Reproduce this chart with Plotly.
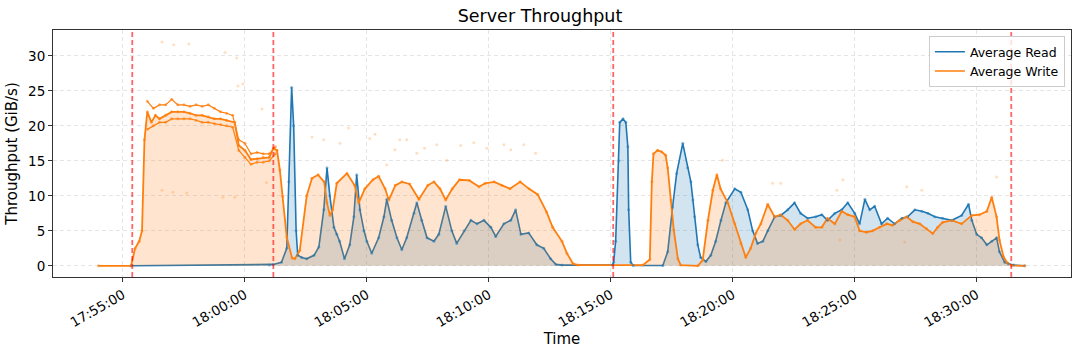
import plotly.graph_objects as go

DAY = "2024-01-01 "

# ---- Average Read (GiB/s) ----
read_times = [
    "17:55:20", "18:01:00", "18:01:10", "18:01:30", "18:01:43", "18:01:48", "18:01:55", "18:02:00",
    "18:02:06", "18:02:10", "18:02:20", "18:02:32", "18:02:50", "18:03:02", "18:03:14", "18:03:22",
    "18:03:29", "18:03:39", "18:03:46", "18:03:53", "18:04:05", "18:04:18", "18:04:28", "18:04:35",
    "18:04:43", "18:04:53", "18:05:00", "18:05:12", "18:05:29", "18:05:42", "18:05:49", "18:06:01",
    "18:06:14", "18:06:26", "18:06:38", "18:06:56", "18:07:03", "18:07:15", "18:07:28", "18:07:45",
    "18:07:57", "18:08:14", "18:08:29", "18:08:41", "18:08:59", "18:09:16", "18:09:31", "18:09:48",
    "18:10:05", "18:10:17", "18:10:37", "18:10:54", "18:11:06", "18:11:19", "18:11:38", "18:11:58",
    "18:12:15", "18:12:32", "18:12:45", "18:13:00", "18:15:04", "18:15:07", "18:15:12", "18:15:20",
    "18:15:22", "18:15:30", "18:15:37", "18:15:42", "18:15:44", "18:15:49", "18:15:55", "18:17:08",
    "18:17:20", "18:17:32", "18:17:42", "18:17:57", "18:18:09", "18:18:17", "18:18:22", "18:18:26",
    "18:18:34", "18:18:41", "18:18:54", "18:19:06", "18:19:18", "18:19:31", "18:19:43", "18:20:05",
    "18:20:20", "18:20:37", "18:20:49", "18:21:01", "18:21:14", "18:21:26", "18:21:43", "18:21:58",
    "18:22:15", "18:22:32", "18:22:47", "18:23:04", "18:23:24", "18:23:39", "18:23:53", "18:24:11",
    "18:24:28", "18:24:43", "18:25:00", "18:25:12", "18:25:25", "18:25:37", "18:25:49", "18:26:06",
    "18:26:21", "18:26:38", "18:26:56", "18:27:10", "18:27:28", "18:27:45", "18:28:00", "18:28:17",
    "18:28:36", "18:28:59", "18:29:23", "18:29:40", "18:29:48", "18:30:00", "18:30:12", "18:30:25",
    "18:30:37", "18:30:49", "18:30:56", "18:31:09", "18:31:18", "18:31:31", "18:31:58",
]
read_vals = [
    0.0, 0.1, 0.2, 0.5, 2.5, 12.0, 25.5, 20.0,
    5.0, 1.5, 1.2, 1.0, 1.5, 2.7, 8.0, 14.0,
    10.0, 5.5, 4.5, 3.5, 1.0, 3.0, 7.0, 13.0,
    8.0, 5.0, 3.5, 1.8, 4.0, 7.0, 9.5, 6.5,
    4.0, 2.3, 4.0, 7.5, 9.0, 6.5, 4.0, 3.5,
    4.5, 8.5, 5.0, 3.2, 5.0, 6.5, 6.0, 6.5,
    5.5, 4.2, 6.0, 6.5, 8.0, 4.5, 4.7, 3.0,
    2.5, 1.0, 0.2, 0.1, 0.1, 0.5, 3.5, 15.0,
    20.5, 21.0, 20.5, 17.0, 8.0, 0.5, 0.05, 0.05,
    2.0, 8.4, 13.2, 17.5, 14.0, 12.0, 9.4, 7.0,
    3.0, 1.2, 0.6, 1.5, 3.5, 6.5, 9.0, 11.0,
    10.5, 8.0, 5.0, 3.2, 3.5, 5.0, 7.0, 7.2,
    8.0, 9.0, 7.5, 6.8, 7.0, 7.3, 6.5, 7.5,
    8.0, 9.0, 7.5, 6.0, 9.5, 8.0, 8.5, 6.0,
    6.8, 6.0, 6.8, 7.0, 8.0, 7.8, 7.5, 7.0,
    6.8, 6.5, 7.2, 8.8, 6.5, 4.5, 4.0, 3.0,
    3.5, 4.0, 2.0, 0.5, 0.3, 0.1, 0.0,
]

# ---- Average Write (GiB/s) ----
write_times = [
    "17:54:00", "17:55:20", "17:55:30", "17:55:40", "17:55:47", "17:55:53", "17:56:00", "17:56:10",
    "17:56:20", "17:56:30", "17:56:45", "17:57:00", "17:57:15", "17:57:30", "17:57:45", "17:58:00",
    "17:58:15", "17:58:30", "17:58:45", "17:59:00", "17:59:15", "17:59:35", "17:59:45", "18:00:00",
    "18:00:15", "18:00:30", "18:00:45", "18:01:00", "18:01:10", "18:01:19", "18:01:26", "18:01:33",
    "18:01:43", "18:01:56", "18:02:03", "18:02:15", "18:02:32", "18:02:45", "18:03:00", "18:03:15",
    "18:03:22", "18:03:29", "18:03:36", "18:03:46", "18:04:11", "18:04:30", "18:04:40", "18:04:55",
    "18:05:15", "18:05:29", "18:05:45", "18:05:54", "18:06:10", "18:06:26", "18:06:45", "18:07:08",
    "18:07:30", "18:07:45", "18:08:00", "18:08:14", "18:08:30", "18:08:48", "18:09:12", "18:09:36",
    "18:09:51", "18:10:13", "18:10:32", "18:10:52", "18:11:17", "18:11:39", "18:12:00", "18:12:22",
    "18:12:37", "18:13:00", "18:13:12", "18:13:27", "18:13:40", "18:16:19", "18:16:36", "18:16:41",
    "18:16:45", "18:16:55", "18:17:05", "18:17:15", "18:17:20", "18:17:28", "18:17:35", "18:17:45",
    "18:17:52", "18:18:34", "18:18:46", "18:18:59", "18:19:11", "18:19:21", "18:19:30", "18:19:48",
    "18:20:05", "18:20:20", "18:20:32", "18:20:44", "18:20:57", "18:21:09", "18:21:26", "18:21:43",
    "18:21:58", "18:22:15", "18:22:32", "18:22:47", "18:23:04", "18:23:24", "18:23:39", "18:23:53",
    "18:24:11", "18:24:28", "18:24:43", "18:25:00", "18:25:12", "18:25:29", "18:25:44", "18:26:01",
    "18:26:19", "18:26:33", "18:26:51", "18:27:08", "18:27:23", "18:27:40", "18:27:57", "18:28:12",
    "18:28:24", "18:28:36", "18:28:59", "18:29:23", "18:29:48", "18:30:07", "18:30:25", "18:30:37",
    "18:30:49", "18:30:56", "18:31:06", "18:31:14", "18:31:26", "18:31:58",
]
write_vals = [
    0.0, 0.0, 2.5, 3.5, 5.0, 18.0, 22.0, 20.5,
    21.5, 21.0, 21.5, 22.0, 22.0, 22.0, 21.8, 21.5,
    21.5, 21.3, 21.0, 21.0, 20.8, 20.5, 17.2, 16.5,
    15.2, 15.3, 15.5, 15.5, 16.8, 16.5, 13.7, 9.9,
    4.1, 1.1, 1.0, 2.2, 10.0, 12.5, 13.0, 12.0,
    9.0, 7.2, 8.0, 11.8, 13.2, 11.5, 9.0, 11.0,
    12.3, 12.8, 11.0, 9.4, 11.5, 12.0, 11.7, 9.5,
    11.5, 12.0, 11.0, 9.4, 11.0, 12.3, 12.2, 11.3,
    11.8, 12.0, 11.5, 11.0, 12.0, 11.0, 10.2, 7.7,
    5.5, 3.5, 1.8, 0.3, 0.1, 0.1, 0.9, 12.0,
    16.0, 16.5, 16.3, 15.8, 14.0, 9.4, 5.1, 1.0,
    0.1, 0.0, 0.8, 6.5, 10.8, 13.0, 11.0, 9.0,
    6.0, 3.2, 1.2, 2.5, 4.7, 6.0, 8.8, 7.0,
    7.3, 6.5, 5.2, 6.0, 6.5, 5.5, 5.5, 6.8,
    6.0, 7.8, 7.3, 7.0, 5.0, 4.8, 5.0, 5.5,
    6.0, 5.8, 6.5, 7.0, 6.3, 6.0, 5.3, 4.6,
    5.5, 6.2, 6.5, 6.0, 7.2, 7.3, 7.8, 9.8,
    7.0, 3.7, 1.3, 0.5, 0.05, 0.0,
]

# ---- per-node write spread during first write phase ----
node_times = [
    "17:56:00", "17:56:15", "17:56:30", "17:56:45", "17:57:00", "17:57:15", "17:57:30", "17:57:45",
    "17:58:00", "17:58:15", "17:58:30", "17:58:45", "17:59:00", "17:59:15", "17:59:30", "17:59:45",
    "18:00:00", "18:00:15", "18:00:30", "18:00:45", "18:01:00", "18:01:15",
]
node_write_hi = [
    23.5, 22.5, 23.0, 23.0, 23.8, 23.0, 23.0, 22.8, 23.0, 22.8, 23.0, 22.5, 22.0, 21.8, 21.5, 18.0,
    17.5, 16.0, 16.2, 16.0, 16.0, 17.0,
]
node_write_lo = [
    19.5, 20.0, 20.5, 20.5, 21.0, 21.0, 21.0, 21.0, 20.8, 20.5, 20.5, 20.3, 20.2, 20.0, 19.8, 16.5,
    15.5, 14.5, 14.8, 14.8, 15.0, 16.0,
]

# ---- scattered outlier write samples ----
outlier_times = [
    "17:56:36", "17:57:05", "17:57:42", "17:59:11", "17:59:40", "17:59:43", "17:59:55", "18:00:42",
    "17:56:36", "17:57:03", "17:57:37", "17:59:35", "17:59:06", "18:00:53", "18:02:45", "18:03:14",
    "18:03:54", "18:04:15", "18:05:07", "18:05:20", "18:05:49", "18:06:09", "18:06:21", "18:06:38",
    "18:07:03", "18:07:22", "18:07:52", "18:08:17", "18:08:51", "18:09:23", "18:09:55", "18:10:37",
    "18:10:54", "18:11:26", "18:11:55", "18:19:35", "18:21:38", "18:21:58", "18:24:16", "18:24:31",
    "18:27:08", "18:27:45", "18:24:23", "18:27:03", "18:30:49",
]
outlier_vals = [
    32.0, 31.6, 31.7, 30.5, 29.7, 25.7, 26.0, 22.4,
    10.8, 10.5, 10.4, 9.8, 9.8, 11.9, 18.4, 18.0,
    17.5, 19.7, 18.2, 18.8, 14.4, 16.6, 18.0, 18.0,
    16.1, 16.8, 17.3, 15.1, 17.2, 17.6, 16.8, 17.3,
    16.6, 17.3, 16.1, 15.1, 11.8, 11.8, 10.8, 12.3,
    11.3, 10.8, 3.7, 3.4, 12.7,
]

# ---- marked events ----
event_times = ["17:55:23", "18:01:10", "18:15:06", "18:31:25"]

series_names = ["Average Read", "Average Write"]
BLUE = "#1f77b4"
ORANGE = "#ff7f0e"


def ts(lst):
    return [DAY + t for t in lst]


fig = go.Figure()

# filled areas + lines
fig.add_trace(go.Scatter(x=ts(read_times), y=read_vals, mode="lines",
                         line=dict(color=BLUE, width=1.6), fill="tozeroy",
                         fillcolor="rgba(31,119,180,0.2)", showlegend=False))
fig.add_trace(go.Scatter(x=ts(write_times), y=write_vals, mode="lines",
                         line=dict(color=ORANGE, width=1.8), fill="tozeroy",
                         fillcolor="rgba(255,127,14,0.2)", showlegend=False))

# sample dots along lines
fig.add_trace(go.Scatter(x=ts(read_times), y=read_vals, mode="markers",
                         marker=dict(color=BLUE, size=3, opacity=0.5), showlegend=False))
fig.add_trace(go.Scatter(x=ts(write_times), y=write_vals, mode="markers",
                         marker=dict(color=ORANGE, size=3, opacity=0.6), showlegend=False))
for arr in (node_write_hi, node_write_lo):
    fig.add_trace(go.Scatter(x=ts(node_times), y=arr, mode="lines+markers",
                             line=dict(color=ORANGE, width=1.2),
                             marker=dict(color=ORANGE, size=3, opacity=0.6), showlegend=False))
fig.add_trace(go.Scatter(x=ts(outlier_times), y=outlier_vals, mode="markers",
                         marker=dict(color=ORANGE, size=3, opacity=0.25), showlegend=False))

# legend entries
for name, col in zip(series_names, [BLUE, ORANGE]):
    fig.add_trace(go.Scatter(x=[None], y=[None], mode="lines", name=name,
                             line=dict(color=col, width=1.5)))

for t in event_times:
    fig.add_shape(type="line", xref="x", yref="paper", x0=DAY + t, x1=DAY + t, y0=0, y1=1,
                  line=dict(color="rgba(255,0,0,0.6)", width=1.8, dash="5px,3px"))

fig.update_layout(
    width=1080, height=354,
    margin=dict(l=53, r=9, t=30, b=77),
    paper_bgcolor="white", plot_bgcolor="white",
    font=dict(family="DejaVu Sans", size=13.9, color="black"),
    title=dict(text="Server Throughput", x=0.5, xanchor="center", y=0.955, yanchor="middle",
               font=dict(size=17.5)),
    legend=dict(x=0.994, y=0.975, xanchor="right", yanchor="top",
                bgcolor="rgba(255,255,255,0.8)", bordercolor="#cccccc", borderwidth=1,
                font=dict(size=12.5), tracegroupgap=0),
    showlegend=True,
)
fig.update_xaxes(
    type="date", range=[DAY + "17:52:08", DAY + "18:33:52"],
    tick0=DAY + "17:55:00", dtick=300000, tickformat="%H:%M:%S", tickangle=-30,
    tickfont=dict(size=13.5),
    showgrid=True, gridcolor="rgba(0,0,0,0.1)", griddash="4px,3px",
    showline=True, linecolor="#333333", linewidth=1, mirror=True,
    ticks="outside", ticklen=4, tickcolor="#333333",
    title=dict(text="Time", font=dict(size=15), standoff=4),
    zeroline=False,
)
fig.update_yaxes(
    range=[-1.6, 33.7], tick0=0, dtick=5,
    tickfont=dict(size=13.5),
    showgrid=True, gridcolor="rgba(0,0,0,0.1)", griddash="4px,3px",
    showline=True, linecolor="#333333", linewidth=1, mirror=True,
    ticks="outside", ticklen=4, tickcolor="#333333",
    title=dict(text="Throughput (GiB/s)", font=dict(size=15), standoff=6),
    zeroline=False,
)

fig.write_html("out.html")
